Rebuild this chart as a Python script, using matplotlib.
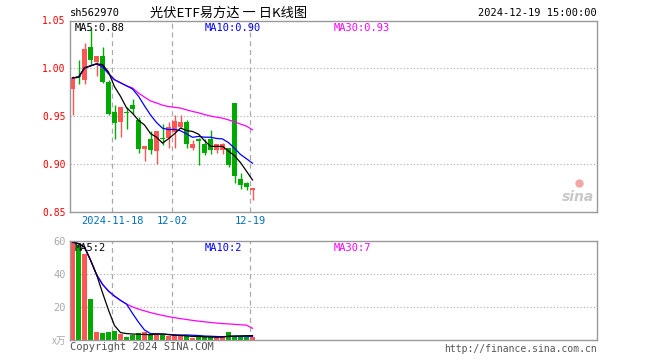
import numpy as np
import matplotlib.pyplot as plt

# Дневные свечи (цена), 31 торговый день
opens = [0.978, 0.992, 0.988, 1.022, 1.007, 1.013, 0.986, 0.954, 0.944, 0.954, 0.961,
         0.946, 0.915, 0.926, 0.913, 0.927, 0.927, 0.933, 0.938, 0.944, 0.917,
         0.926, 0.921, 0.926, 0.914, 0.914, 0.916, 0.964, 0.884, 0.880, 0.872]
highs = [0.992, 1.009, 1.026, 1.042, 1.013, 1.022, 0.988, 0.961, 0.959, 0.959, 0.968,
         0.949, 0.919, 0.934, 0.934, 0.942, 0.944, 0.951, 0.951, 0.946, 0.925,
         0.927, 0.926, 0.935, 0.921, 0.922, 0.917, 0.964, 0.890, 0.881, 0.875]
lows = [0.951, 0.983, 0.984, 1.003, 0.992, 0.985, 0.951, 0.926, 0.928, 0.936, 0.952,
        0.911, 0.903, 0.910, 0.900, 0.920, 0.917, 0.917, 0.937, 0.917, 0.914,
        0.899, 0.909, 0.910, 0.911, 0.910, 0.897, 0.880, 0.874, 0.873, 0.862]
closes = [0.990, 0.991, 1.020, 1.009, 1.013, 0.986, 0.952, 0.943, 0.959, 0.953, 0.957,
          0.915, 0.919, 0.914, 0.934, 0.926, 0.938, 0.945, 0.944, 0.921, 0.921,
          0.924, 0.911, 0.914, 0.921, 0.921, 0.899, 0.887, 0.878, 0.876, 0.875]
# Объём, x万
volumes = [59.5, 57.7, 52.2, 24.6, 4.5, 3.9, 4.5, 5.1, 3.2, 1.4, 2.6,
           3.7, 4.5, 2.6, 3.2, 2.6, 2.0, 2.6, 2.0, 2.0, 0.8,
           2.0, 1.4, 1.4, 1.4, 1.4, 4.3, 2.3, 1.8, 1.8, 1.8]

tick_idx = [7, 17, 30]
tick_labels = ['2024-11-18', '12-02', '12-19']
price_ticks = [0.85, 0.90, 0.95, 1.00, 1.05]
vol_ticks = [20, 40, 60]

RED = '#ff5555'
GREEN = '#00aa00'
GRAY = '#999999'
MONO = 'DejaVu Sans Mono'
CJK = ['Noto Sans CJK SC', 'DejaVu Sans']

o = np.array(opens)
h = np.array(highs)
l = np.array(lows)
c = np.array(closes)
v = np.array(volumes)
x = np.arange(len(c))
colors = [RED if cc >= oo else GREEN for oo, cc in zip(o, c)]


# Скользящее среднее (в начале ряда — по доступным точкам)
def ma(a, n):
    out = []
    for i in range(len(a)):
        out.append(a[max(0, i - n + 1):i + 1].mean())
    return np.array(out)


def trunc2(val):
    return '%.2f' % (np.floor(val * 100 + 1e-9) / 100)


fig = plt.figure(figsize=(6.6, 3.6), dpi=100)


def fx(px):
    return px / 660


def fy(py):
    return 1 - py / 360


ax = fig.add_axes([fx(70), fy(211.5), fx(597) - fx(70), fy(20.5) - fy(211.5)])
axv = fig.add_axes([fx(70), fy(339.5), fx(597) - fx(70), fy(240.5) - fy(339.5)])

xlim = (-0.42, 87.42)

# --- цена ---
ax.vlines(x, l, h, colors=colors, lw=1)
body_bot = np.minimum(o, c)
body_h = np.maximum(np.abs(c - o), 0.0012)
ax.bar(x, body_h, bottom=body_bot, width=0.83, color=colors, linewidth=0)
ax.plot(x, ma(c, 30), color='#ff00ff', lw=0.9)
ax.plot(x, ma(c, 10), color='#0000ff', lw=0.9)
ax.plot(x, ma(c, 5), color='black', lw=0.9)
ax.set_xlim(*xlim)
ax.set_ylim(0.85, 1.05)
for y in [0.90, 0.95, 1.00]:
    ax.axhline(y, color='#aaaaaa', lw=0.8, ls=(0, (1, 2)), zorder=0)
for i in tick_idx:
    ax.axvline(i - 0.35, color='#aaaaaa', lw=0.9, ls=(0, (4, 3)), zorder=0)
ax.set_yticks(price_ticks)
ax.set_yticklabels(['%.2f' % t for t in price_ticks], color='red', fontfamily=MONO, fontsize=7)
ax.set_xticks([i - 0.35 for i in tick_idx])
ax.set_xticklabels(tick_labels, color='#0070c0', fontfamily=MONO, fontsize=7.5)
ax.tick_params(length=0, pad=3)

ax.text(0.008, 0.985, 'MA5:' + trunc2(ma(c, 5)[-1]), transform=ax.transAxes, va='top',
        fontfamily=MONO, fontsize=7.5, color='black')
ax.text(0.255, 0.985, 'MA10:' + trunc2(ma(c, 10)[-1]), transform=ax.transAxes, va='top',
        fontfamily=MONO, fontsize=7.5, color='#0000ff')
ax.text(0.5, 0.985, 'MA30:' + trunc2(ma(c, 30)[-1]), transform=ax.transAxes, va='top',
        fontfamily=MONO, fontsize=7.5, color='#ff00ff')

# логотип sina
ax.text(0.995, 0.04, 'sina', transform=ax.transAxes, ha='right', va='bottom',
        fontsize=10, fontweight='bold', style='italic', color='#c8c8c8')
ax.plot([0.965], [0.15], 'o', transform=ax.transAxes, ms=6, color='#f4a6a6', mec='none')

# --- объём ---
axv.bar(x, v, width=0.83, color=colors, linewidth=0)
axv.plot(x, ma(v, 30), color='#ff00ff', lw=0.9)
axv.plot(x, ma(v, 10), color='#0000ff', lw=0.9)
axv.plot(x, ma(v, 5), color='black', lw=0.9)
axv.set_xlim(*xlim)
axv.set_ylim(0, 60.5)
for y in [20, 40]:
    axv.axhline(y, color='#aaaaaa', lw=0.8, ls=(0, (1, 2)), zorder=0)
for i in tick_idx:
    axv.axvline(i - 0.35, color='#aaaaaa', lw=0.9, ls=(0, (4, 3)), zorder=0)
axv.set_yticks(vol_ticks)
axv.set_yticklabels([str(t) for t in vol_ticks], color='#aaaaaa', fontfamily=MONO, fontsize=7.5)
axv.set_xticks([])
axv.tick_params(length=0, pad=3)
axv.text(0.008, 0.975, 'MA5:%d' % round(ma(v, 5)[-1]), transform=axv.transAxes, va='top',
         fontfamily=MONO, fontsize=7.5, color='black')
axv.text(0.255, 0.975, 'MA10:%d' % round(ma(v, 10)[-1]), transform=axv.transAxes, va='top',
         fontfamily=MONO, fontsize=7.5, color='#0000ff')
axv.text(0.5, 0.975, 'MA30:%d' % round(ma(v, 30)[-1]), transform=axv.transAxes, va='top',
         fontfamily=MONO, fontsize=7.5, color='#ff00ff')

for a in (ax, axv):
    for s in a.spines.values():
        s.set_color(GRAY)
        s.set_linewidth(1)

# --- подписи ---
fig.text(fx(70), fy(13), 'sh562970', fontfamily=MONO, fontsize=7.5, va='center', color='black')
fig.text(fx(150), fy(13), '光伏ETF易方达 一 日K线图', family=CJK, fontsize=9.5, va='center',
         color='black')
fig.text(fx(597), fy(13), '2024-12-19 15:00:00', fontfamily=MONO, fontsize=7.5, va='center',
         ha='right', color='black')
fig.text(fx(66), fy(341), 'x万', family=CJK, fontsize=7, va='center', ha='right', color='#aaaaaa')
fig.text(fx(70), fy(347), 'Copyright 2024 SINA.COM', fontfamily=MONO, fontsize=7.5, va='center',
         color='#555555')
fig.text(fx(597), fy(349), 'http://finance.sina.com.cn', fontfamily=MONO, fontsize=7, va='center',
         ha='right', color='#555555')

fig.savefig('out.png', dpi=100)
